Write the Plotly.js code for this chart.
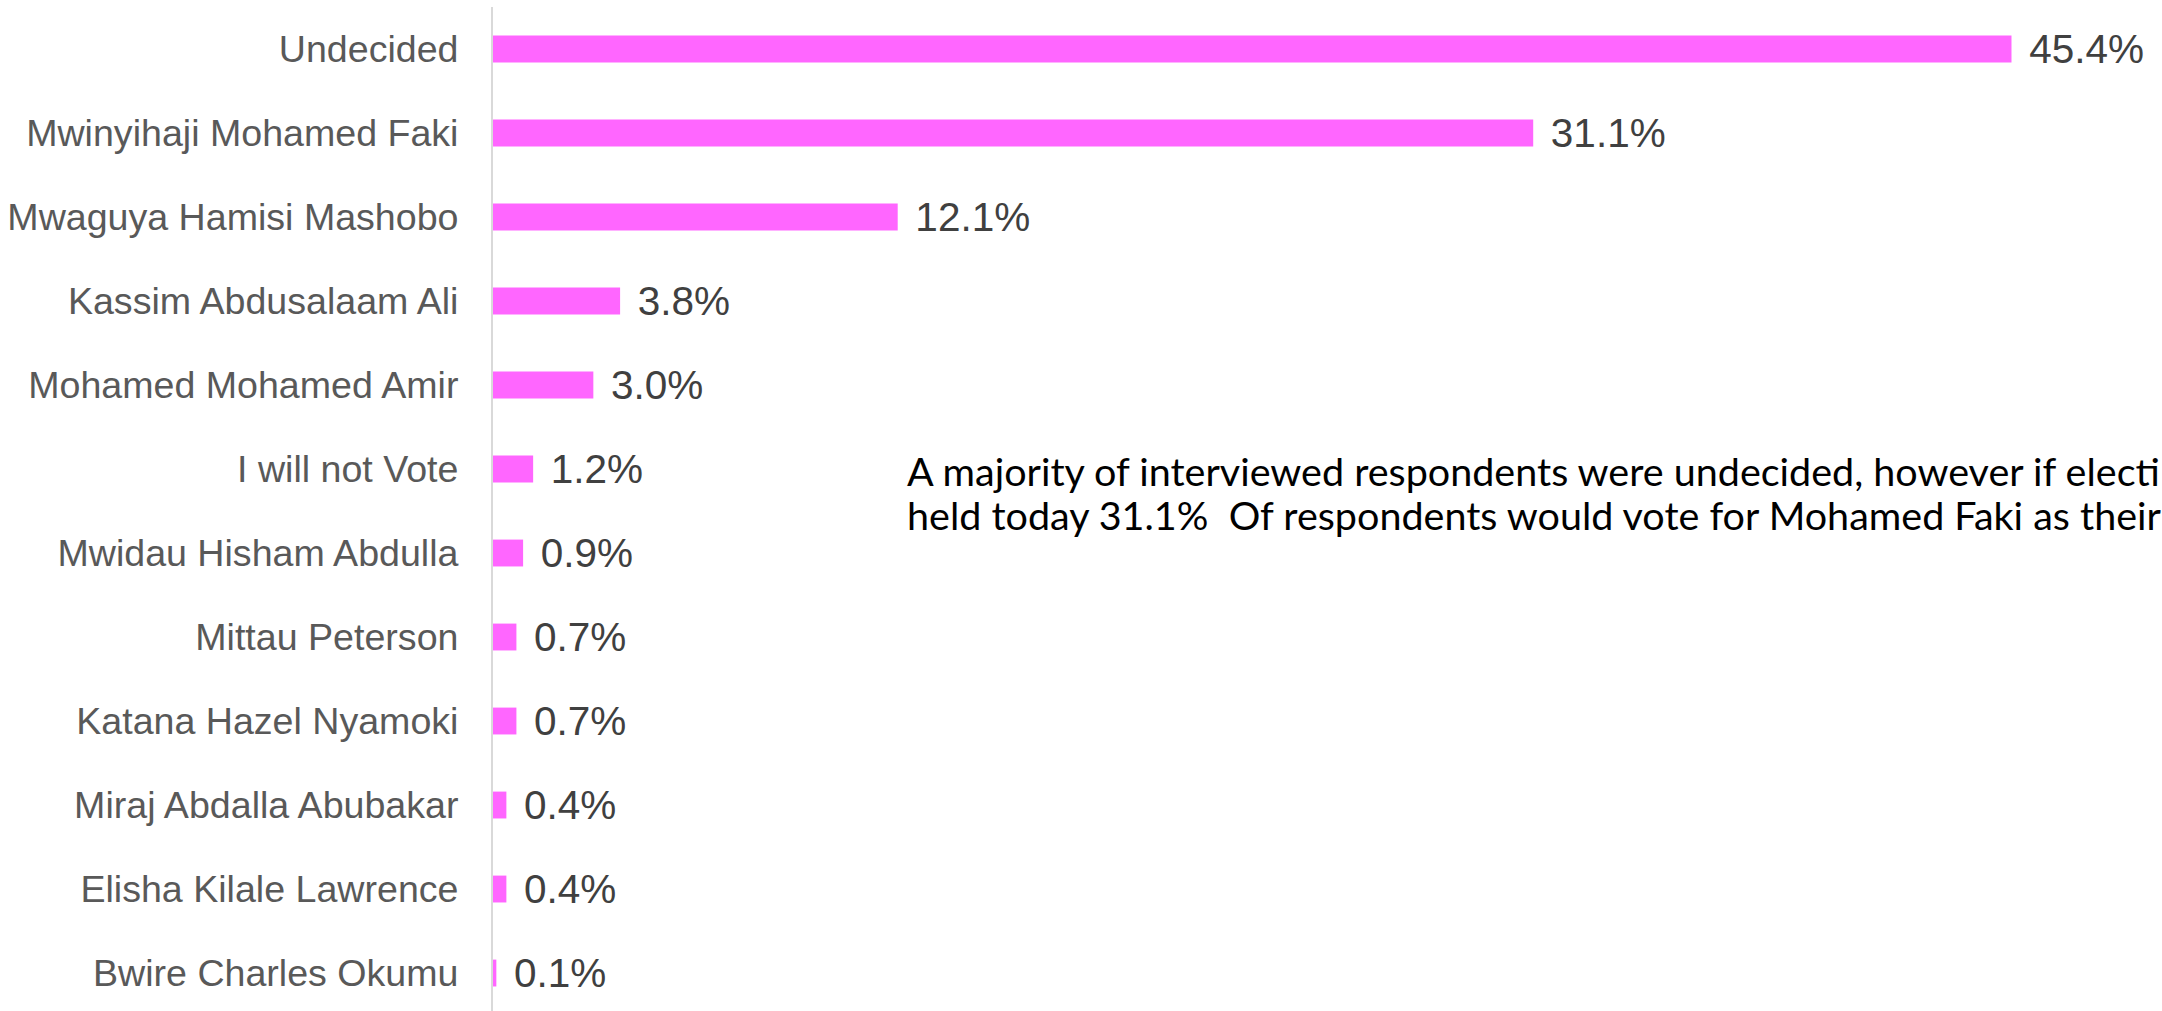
<!DOCTYPE html>
<html>
<head>
<meta charset="utf-8">
<script src="https://cdn.plot.ly/plotly-3.0.1.min.js"></script>
<style>
  html, body { margin: 0; padding: 0; background: #ffffff; }
  #chart { width: 2162px; height: 1011px; }
</style>
</head>
<body>
<div id="chart"></div>
<script>
// Data
const candidates = [
  "Undecided",
  "Mwinyihaji Mohamed Faki",
  "Mwaguya Hamisi Mashobo",
  "Kassim Abdusalaam Ali",
  "Mohamed Mohamed Amir",
  "I will not Vote",
  "Mwidau Hisham Abdulla",
  "Mittau Peterson",
  "Katana Hazel Nyamoki",
  "Miraj Abdalla Abubakar",
  "Elisha Kilale Lawrence",
  "Bwire Charles Okumu"
];
const shares = [45.4, 31.1, 12.1, 3.8, 3.0, 1.2, 0.9, 0.7, 0.7, 0.4, 0.4, 0.1];
// Note text exactly as visible in the reference (it runs to the right edge there)
const noteLines = [
  "A majority of interviewed respondents were undecided, however if electi",
  "held today 31.1%\u00a0 Of respondents would vote for Mohamed Faki as their"
];
const noteY = [0.5388, 0.495];

const trace = {
  type: "bar",
  orientation: "h",
  y: candidates,
  x: shares,
  width: 0.32,
  marker: { color: "#FF66FF" },
  text: shares.map(v => "\u00a0\u200a" + v.toFixed(1) + "%"),
  textposition: "outside",
  constraintext: "none",
  cliponaxis: false,
  textfont: { family: "Liberation Sans, Arial, sans-serif", size: 40.5, color: "#404040" },
  hoverinfo: "skip"
};

const layout = {
  width: 2162,
  height: 1011,
  margin: { l: 493, r: 0, t: 7, b: 0, pad: 0 },
  paper_bgcolor: "#ffffff",
  plot_bgcolor: "#ffffff",
  showlegend: false,
  xaxis: {
    range: [0, 49.9],
    visible: false,
    showgrid: false,
    zeroline: false
  },
  yaxis: {
    type: "category",
    range: [11.452, -0.5],
    showline: true,
    linecolor: "#d9d9d9",
    linewidth: 2,
    showgrid: false,
    zeroline: false,
    ticks: "outside",
    ticklen: 25,
    tickcolor: "rgba(0,0,0,0)",
    tickfont: { family: "Liberation Sans, Arial, sans-serif", size: 37.6, color: "#595959" }
  },
  annotations: noteLines.map((t, i) => ({
    xref: "paper",
    yref: "paper",
    x: 0.2469,
    y: noteY[i],
    xanchor: "left",
    yanchor: "middle",
    align: "left",
    showarrow: false,
    text: t,
    font: { family: "Lato, sans-serif", size: 39.5, color: "#000000" }
  }))
};

Plotly.newPlot("chart", [trace], layout, { staticPlot: true, displayModeBar: false });
</script>
</body>
</html>
